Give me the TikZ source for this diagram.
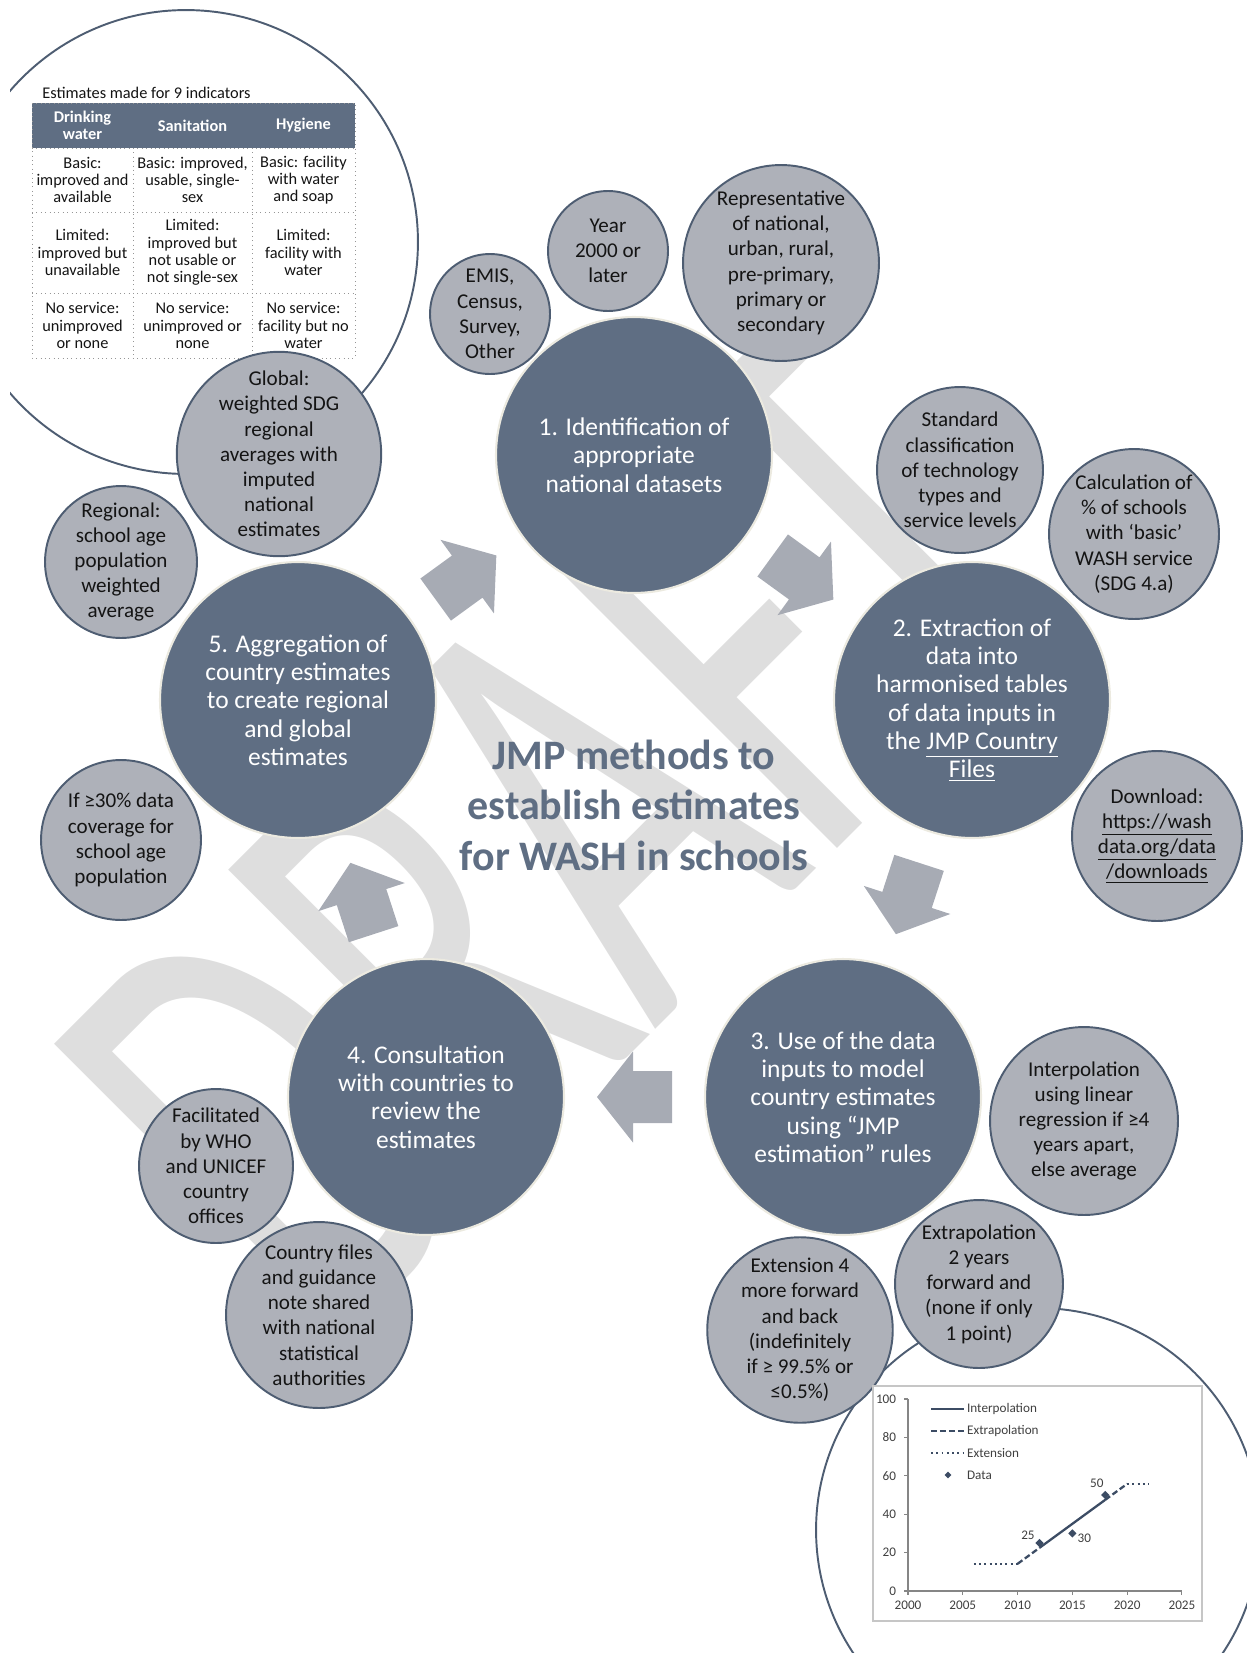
\documentclass[tikz,border=0pt]{standalone}
\usepackage{fontspec}
\setmainfont{Carlito}
\usetikzlibrary{shapes.geometric,calc}
\definecolor{slate}{RGB}{95,110,131}
\definecolor{bubfill}{RGB}{174,177,185}
\definecolor{bubedge}{RGB}{78,93,114}
\definecolor{arrowfill}{RGB}{167,171,180}
\definecolor{wmgray}{RGB}{222,222,222}
\definecolor{cream}{RGB}{236,234,224}
\definecolor{inkdark}{RGB}{20,20,20}
\definecolor{gridgray}{RGB}{150,150,150}
\definecolor{chartline}{RGB}{60,76,100}
\definecolor{axisgray}{RGB}{134,134,134}
\definecolor{charttext}{RGB}{64,64,64}
\begin{document}
\begin{tikzpicture}[x=0.02cm,y=-0.02cm,
  mainc/.style={circle, fill=slate, draw=cream, line width=1.2pt, minimum size=5.52cm, inner sep=0pt, align=center, text=white, font=\fontsize{14.5}{16.1}\selectfont},
  bub/.style={circle, fill=bubfill, draw=bubedge, line width=1.1pt, minimum size=#1, inner sep=0pt, align=center, text=inkdark, font=\fontsize{12}{14.35}\selectfont},
  cycarrow/.style={fill=arrowfill},
  ring/.style={circle, draw=bubedge, line width=1.1pt, minimum size=#1, inner sep=0pt},
  cell/.style={align=center, text=inkdark, font=\fontsize{9.3}{9.8}\selectfont, inner sep=0pt},
  hcell/.style={align=center, text=white, font=\fontsize{9.3}{9.8}\selectfont\bfseries, inner sep=0pt},
  grid/.style={draw=gridgray, dotted, line width=0.5pt},
  ctext/.style={text=charttext, font=\fontsize{7.5}{8}\selectfont, inner sep=1pt},
  cline/.style={draw=chartline, line width=1.3pt},
  dmark/.style={diamond, fill=chartline, inner sep=0pt, minimum size=0.17cm},
]
\useasboundingbox (0,0) rectangle (1247,1653);

% watermark
\node[rotate=45, yscale=1.62, text=wmgray, font=\fontsize{227}{227}\selectfont, inner sep=0pt] (wm) at (560,832) {DRAFT};

% large rings
\begin{scope}
\clip (10,0) rectangle (1247,1653);
\node[ring=9.28cm] (ringA) at (186,242) {};
\end{scope}
\node[ring=8.88cm] (ringB) at (1038,1530) {};

% table
\node[anchor=base west, inner sep=0pt, text=inkdark, font=\fontsize{9.3}{9.8}\selectfont] (tcap) at (42,98) {Estimates made for 9 indicators};
\fill[slate] (32,103) rectangle (355,148);
\draw[grid] (32,103) rectangle (355,358);
\foreach \yy in {148,212,293} \draw[grid] (32,\yy) -- (355,\yy);
\foreach \xx in {133,252} \draw[grid] (\xx,148) -- (\xx,358);
\node[hcell] (h1) at (82.5,125.5) {Drinking\\water};
\node[hcell] (h2) at (192.5,125.5) {Sanitation};
\node[hcell] (h3) at (303.5,125.5) {Hygiene};
\node[cell] (c11) at (82.5,180) {Basic:\\improved and\\available};
\node[cell] (c12) at (192.5,180) {Basic: improved,\\usable, single-\\sex};
\node[cell] (c13) at (303.5,180) {Basic: facility\\with water\\and soap};
\node[cell] (c21) at (82.5,252.5) {Limited:\\improved but\\unavailable};
\node[cell] (c22) at (192.5,252.5) {Limited:\\improved but\\not usable or\\not single-sex};
\node[cell] (c23) at (303.5,252.5) {Limited:\\facility with\\water};
\node[cell] (c31) at (82.5,325.5) {No service:\\unimproved\\or none};
\node[cell] (c32) at (192.5,325.5) {No service:\\unimproved or\\none};
\node[cell] (c33) at (303.5,325.5) {No service:\\facility but no\\water};

% main circles
\node[mainc] (n1) at (634,455) {1. Identification of\\appropriate\\national datasets};
\node[mainc] (n2) at (972,700) {2. Extraction of\\data into\\harmonised tables\\of data inputs in\\the \underline{JMP Country}\\\underline{Files}};
\node[mainc] (n3) at (843,1097) {3. Use of the data\\inputs to model\\country estimates\\using “JMP\\estimation” rules};
\node[mainc] (n4) at (426,1097) {4. Consultation\\with countries to\\review the\\estimates};
\node[mainc] (n5) at (298,700) {5. Aggregation of\\country estimates\\to create regional\\and global\\estimates};

% cycle arrows (block arrows placed midway between consecutive steps)
\coordinate (m12) at ($(n1)!0.5!(n2)$);
\coordinate (m23) at ($(n2)!0.5!(n3)$);
\coordinate (m34) at ($(n3)!0.5!(n4)$);
\coordinate (m45) at ($(n4)!0.5!(n5)$);
\coordinate (m51) at ($(n5)!0.5!(n1)$);
\foreach \m/\ang in {m12/-36, m23/-108, m34/180, m45/108, m51/36} {
  \begin{scope}[shift={(\m)}, rotate=\ang]
    \fill[cycarrow] (-37.5,-26) -- (1.5,-26) -- (1.5,-45.5) -- (37.5,0) -- (1.5,45.5) -- (1.5,26) -- (-37.5,26) -- cycle;
  \end{scope}
}

% title
\node[align=center, text=slate, font=\fontsize{23.9}{28.7}\selectfont\bfseries] (title) at (634,805) {JMP methods to\\establish estimates\\for WASH in schools};

% bubbles
\node[bub=2.4cm] (emis) at (490,314) {EMIS,\\Census,\\Survey,\\Other};
\node[bub=2.4cm] (year) at (608,251) {Year\\2000 or\\later};
\node[bub=3.92cm] (repr) at (781,263) {Representative\\of national,\\urban, rural,\\pre-primary,\\primary or\\secondary};
\node[bub=3.32cm] (std) at (960,470) {Standard\\classification\\of technology\\types and\\service levels};
\node[bub=3.4cm] (calc) at (1134,534) {Calculation of\\\% of schools\\with ‘basic’\\WASH service\\(SDG 4.a)};
\node[bub=3.4cm] (down) at (1157,836) {Download:\\\underline{https://wash}\\\underline{data.org/data}\\\underline{/downloads}};
\node[bub=3.76cm] (interp) at (1084,1121) {Interpolation\\using linear\\regression if ≥4\\years apart,\\else average};
\node[bub=3.44cm] (ext) at (800,1330) {Extension 4\\more forward\\and back\\(indefinitely\\if ≥ 99.5\% or\\≤0.5\%)};
\node[bub=3.36cm] (extrap) at (979,1284) {Extrapolation\\2 years\\forward and\\(none if only\\1 point)};
\node[bub=3.08cm] (facil) at (216,1166) {Facilitated\\by WHO\\and UNICEF\\country\\offices};
\node[bub=3.72cm] (cfiles) at (319,1315) {Country files\\and guidance\\note shared\\with national\\statistical\\authorities};
\node[bub=3.2cm] (cover) at (121,840) {If ≥30\% data\\coverage for\\school age\\population};
\node[bub=3.04cm] (region) at (121,562) {Regional:\\school age\\population\\weighted\\average};
\node[bub=4.08cm] (global) at (279,454) {Global:\\weighted SDG\\regional\\averages with\\imputed\\national\\estimates};

% chart
\draw[draw=gray!45, fill=white, line width=0.6pt] (873,1386) rectangle (1202,1621);
\begin{scope}[shift={(908,1591)}, x=0.2192cm, y=0.0384cm]
  \draw[axisgray, line width=0.6pt] (0,100) -- (0,0) -- (25,0);
  \foreach \v in {0,20,40,60,80,100} {
    \draw[axisgray, line width=0.6pt] (0,\v) -- ++(-0.08cm,0);
    \node[ctext, anchor=east] (yl\v) at (-0.9,\v) {\v};
  }
  \foreach \xv/\lab in {0/2000,5/2005,10/2010,15/2015,20/2020,25/2025} {
    \draw[axisgray, line width=0.6pt] (\xv,0) -- ++(0,-0.08cm);
    \node[ctext, anchor=north] (xl\lab) at (\xv,-4) {\lab};
  }
  \draw[cline] (12,22.5) -- (18,47.5);
  \draw[cline, dash pattern=on 3.4pt off 1.7pt] (10,14.17) -- (12,22.5);
  \draw[cline, dash pattern=on 3.4pt off 1.7pt] (18,47.5) -- (20,55.83);
  \draw[cline, dash pattern=on 1.1pt off 1.9pt] (6,14.17) -- (10,14.17);
  \draw[cline, dash pattern=on 1.1pt off 1.9pt] (20,55.83) -- (22,55.83);
  \node[dmark] (d1) at (12,25) {};
  \node[dmark] (d2) at (15,30) {};
  \node[dmark] (d3) at (18,50) {};
  \node[ctext] (l25) at (10.95,29.2) {25};
  \node[ctext] (l30) at (16.1,27.6) {30};
  \node[ctext] (l50) at (17.24,56.3) {50};
\end{scope}
\draw[cline] (931,1409) -- (964,1409);
\draw[cline, dash pattern=on 3.4pt off 1.7pt] (931,1431) -- (964,1431);
\draw[cline, dash pattern=on 1.1pt off 1.9pt] (931,1453) -- (964,1453);
\node[dmark, minimum size=0.14cm] (dleg) at (948,1475) {};
\node[ctext, anchor=west] (leg1) at (965,1409) {Interpolation};
\node[ctext, anchor=west] (leg2) at (965,1431) {Extrapolation};
\node[ctext, anchor=west] (leg3) at (965,1453) {Extension};
\node[ctext, anchor=west] (leg4) at (965,1475) {Data};
\end{tikzpicture}
\end{document}
